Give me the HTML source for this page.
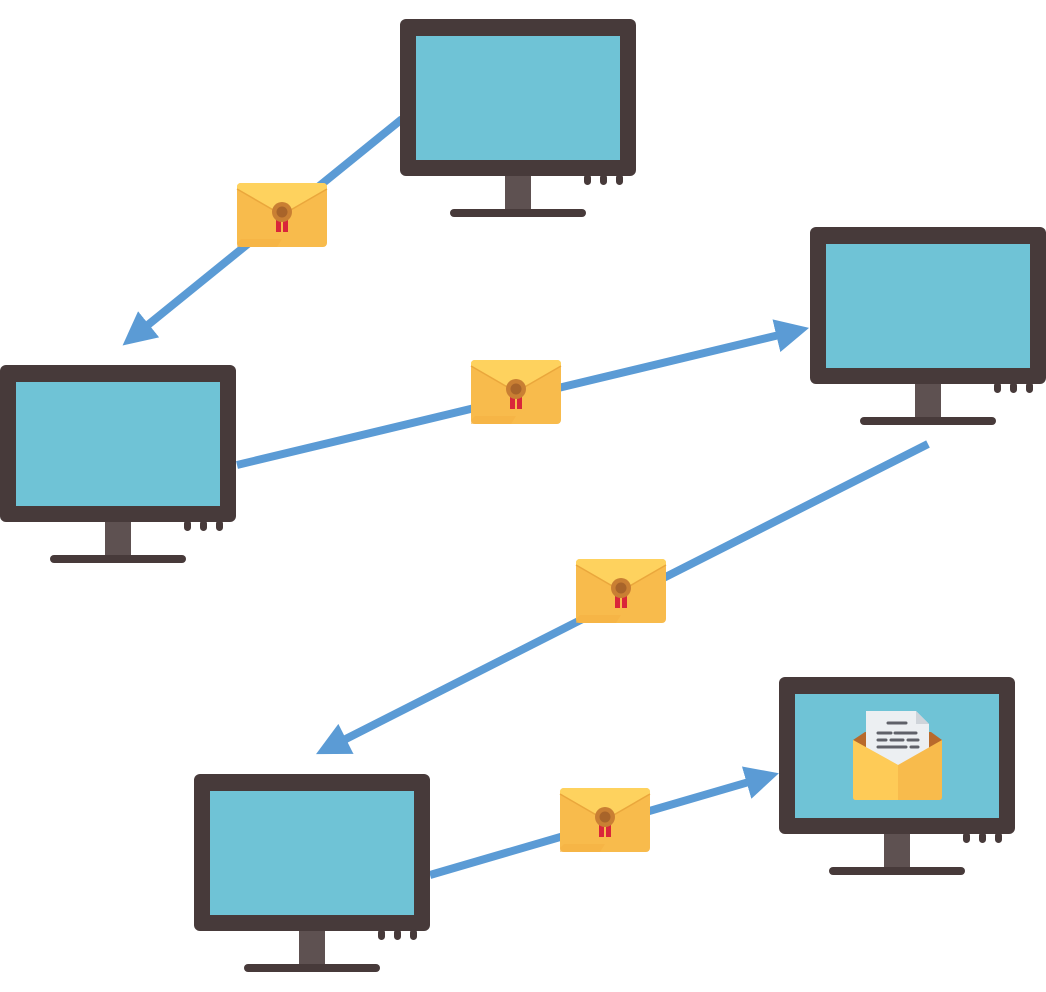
<!DOCTYPE html>
<html><head><style>html,body{margin:0;padding:0;background:#fff}svg{display:block}</style></head>
<body>
<svg width="1046" height="992" viewBox="0 0 1046 992" xmlns="http://www.w3.org/2000/svg">
<defs>
<g id="mon">
<rect x="0" y="0" width="236" height="157" rx="6" fill="#473a3a"/>
<rect x="16" y="17" width="204" height="124" fill="#6fc3d6"/>
<rect x="105" y="157" width="26" height="34" fill="#5e5151"/>
<rect x="50" y="190" width="136" height="8" rx="4" fill="#473a3a"/>
<rect x="184" y="155" width="7" height="11" rx="3.5" fill="#473a3a"/>
<rect x="200" y="155" width="7" height="11" rx="3.5" fill="#473a3a"/>
<rect x="216" y="155" width="7" height="11" rx="3.5" fill="#473a3a"/>
</g>
<g id="env">
<rect x="0" y="0" width="90" height="64" rx="4" fill="#f8bb4c"/>
<path d="M0 4 Q0 0 4 0 L86 0 Q90 0 90 4 L90 6 L45 32 L0 6 Z" fill="#fed25e"/>
<path d="M0 6 L45 32 L90 6" fill="none" stroke="#eaa73c" stroke-width="1.5"/>
<path d="M0 60 L0 64 L40 64 L45 56 L4 56 Z" fill="#f5b043" opacity="0.6"/>
<rect x="39" y="33" width="5" height="16" fill="#d9263a"/>
<rect x="46" y="33" width="5" height="16" fill="#d9263a"/>
<circle cx="45" cy="29" r="10" fill="#c97f33"/>
<circle cx="45" cy="29" r="5.5" fill="#a8642a"/>
</g>
<marker id="ah" viewBox="0 0 10 10" refX="6" refY="5" markerWidth="4.2" markerHeight="4.2" orient="auto" markerUnits="strokeWidth">
<path d="M0 0 L10 5 L0 10 Z" fill="#5b9bd5"/>
</marker>
</defs>
<g stroke="#5b9bd5" stroke-width="8" fill="none" marker-end="url(#ah)">
<line x1="402" y1="119" x2="133" y2="337"/>
<line x1="237" y1="465" x2="796" y2="331"/>
<line x1="928" y1="444" x2="328" y2="748"/>
<line x1="430" y1="875" x2="766" y2="777"/>
</g>
<use href="#mon" x="400" y="19"/>
<use href="#mon" x="810" y="227"/>
<use href="#mon" x="0" y="365"/>
<use href="#mon" x="194" y="774"/>
<use href="#mon" x="779" y="677"/>
<use href="#env" x="237" y="183"/>
<use href="#env" x="471" y="360"/>
<use href="#env" x="576" y="559"/>
<use href="#env" x="560" y="788"/>
<!-- open envelope -->
<g transform="translate(853,710)">
<path d="M0 30 L12 22 L78 22 L89 30 L89 60 L0 60 Z" fill="#b86a2c"/>
<path d="M13 1 L63 1 L76 14 L76 60 L13 60 Z" fill="#eceff2"/>
<path d="M63 1 L63 14 L76 14 Z" fill="#cfd4da"/>
<g stroke="#5f6169" stroke-width="3" stroke-linecap="round">
<line x1="35" y1="13" x2="53" y2="13"/>
<line x1="25" y1="23" x2="38" y2="23"/><line x1="42" y1="23" x2="63" y2="23"/>
<line x1="25" y1="30" x2="33" y2="30"/><line x1="38" y1="30" x2="50" y2="30"/><line x1="55" y1="30" x2="65" y2="30"/>
<line x1="25" y1="37" x2="53" y2="37"/><line x1="58" y1="37" x2="65" y2="37"/>
</g>
<path d="M0 30 L45 55 L89 30 L89 87 Q89 90 86 90 L3 90 Q0 90 0 87 Z" fill="#f8bb4c"/>
<path d="M0 30 L45 55 L45 90 L3 90 Q0 90 0 87 Z" fill="#fecb57"/>
</g>
</svg>
</body></html>
